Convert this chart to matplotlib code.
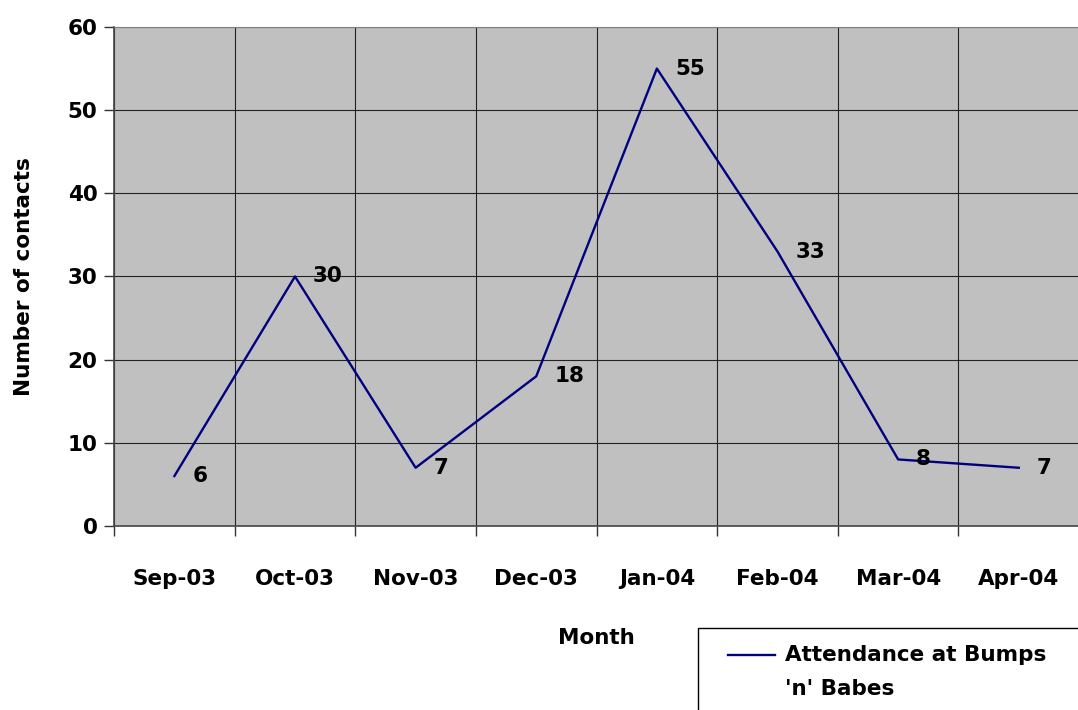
import matplotlib.pyplot as plt
import numpy as np
from matplotlib.lines import Line2D
from matplotlib.patches import Rectangle
from matplotlib.ticker import FixedLocator

months = ["Sep-03", "Oct-03", "Nov-03", "Dec-03", "Jan-04", "Feb-04", "Mar-04", "Apr-04"]
contacts = [6, 30, 7, 18, 55, 33, 8, 7]
series_name = "Attendance at Bumps\n'n' Babes"

font = "DejaVu Sans"
fs = 15.5
W, H = 1078, 710
fig = plt.figure(figsize=(W / 100, H / 100), dpi=100)
ax = fig.add_axes([0.1058, 0.2592, 0.8952, 0.7028])
ax.set_facecolor("#c0c0c0")

x = np.arange(len(months))
line_color = "#000080"
ax.plot(x, contacts, color=line_color, lw=1.7, zorder=3)
for xi, v in zip(x, contacts):
    ax.annotate(str(v), (xi, v), xytext=(13, 0), textcoords="offset points",
                va="center", ha="left", fontsize=fs, fontweight="bold", family=font)

ax.set_xlim(-0.5, len(months) - 0.5)
ax.set_ylim(0, 60)
ax.set_yticks(range(0, 61, 10))
ax.set_xticks(x)
ax.set_xticklabels(months)
ax.xaxis.set_minor_locator(FixedLocator(np.arange(-0.5, len(months), 1)))
ax.tick_params(axis="x", which="major", length=0, pad=31, labelsize=fs)
ax.tick_params(axis="x", which="minor", length=7, width=1, color="#333333")
ax.tick_params(axis="y", length=7, width=1, color="#333333", labelsize=fs, pad=5)
for lbl in ax.get_xticklabels() + ax.get_yticklabels():
    lbl.set_fontweight("bold")
    lbl.set_family(font)

ax.grid(True, which="minor", axis="x", color="#222222", lw=0.8)
ax.grid(True, which="major", axis="y", color="#222222", lw=0.8)
ax.set_axisbelow(True)
for side in ["left", "bottom"]:
    ax.spines[side].set_color("#444444")
    ax.spines[side].set_linewidth(1.2)
ax.spines["top"].set_color("#808080")
ax.spines["right"].set_visible(False)

ax.set_xlabel("Month", fontsize=fs, fontweight="bold", family=font, labelpad=28)
ax.set_ylabel("Number of contacts", fontsize=fs, fontweight="bold", family=font, labelpad=24)

# legend box, running off the bottom-right corner of the figure
fig.patches.append(Rectangle((698 / W, -0.05), 0.4, 0.05 + (H - 628) / H,
                             transform=fig.transFigure, fill=False,
                             edgecolor="black", lw=1.0, clip_on=False))
fig.lines.append(Line2D([728 / W, 775 / W], [1 - 655 / H] * 2, color=line_color,
                        lw=1.7, transform=fig.transFigure))
fig.text(785 / W, 1 - 645 / H, series_name, ha="left", va="top", fontsize=fs,
         fontweight="bold", family=font, linespacing=1.9)

fig.savefig("out.png", dpi=100)
